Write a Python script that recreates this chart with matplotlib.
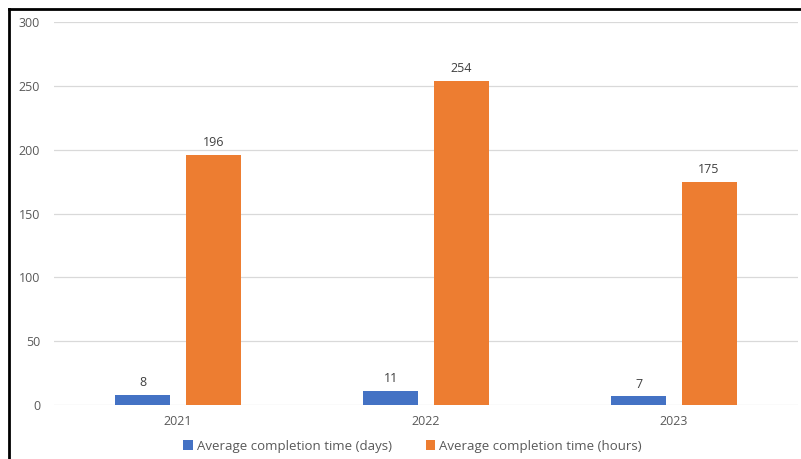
import numpy as np
import matplotlib.pyplot as plt
from matplotlib.lines import Line2D

years = ["2021", "2022", "2023"]
days = [8, 11, 7]
hours = [196, 254, 175]
labels = ["Average completion time (days)", "Average completion time (hours)"]

plt.rcParams['font.family'] = ['Open Sans', 'DejaVu Sans']

fig = plt.figure(figsize=(8.01, 4.59), dpi=100)
ax = fig.add_axes([0.0674, 0.1176, 0.9286, 0.8344])

x = np.arange(len(years))
w = 0.222
off = 0.142
b1 = ax.bar(x - off, days, w, color="#4472C4", label=labels[0])
b2 = ax.bar(x + off, hours, w, color="#ED7D31", label=labels[1])
for bars in (b1, b2):
    for r in bars:
        ax.annotate(str(int(r.get_height())), (r.get_x() + r.get_width() / 2, r.get_height()),
                    xytext=(0, 4), textcoords="offset points", ha="center", va="bottom",
                    fontsize=9, color="#404040")

ax.set_xlim(-0.5, 2.5)
ax.set_ylim(0, 300)
ax.set_yticks(range(0, 301, 50))
ax.set_xticks(x)
ax.set_xticklabels(years)
ax.grid(axis="y", color="#D9D9D9", linewidth=0.9)
ax.set_axisbelow(True)
for s in ax.spines.values():
    s.set_visible(False)
ax.tick_params(length=0, labelsize=9, colors="#595959")
ax.tick_params(axis="y", pad=10)
ax.tick_params(axis="x", pad=7)

fig.legend(handles=[b1, b2], labels=labels, loc="center", bbox_to_anchor=(0.515, 0.028),
           ncol=2, frameon=False, fontsize=9.5, labelcolor="#595959", handlelength=0.7,
           handleheight=0.7, handletextpad=0.3, columnspacing=2.6)

# outer frame
fig.add_artist(Line2D([8.5 / 801, 8.5 / 801], [0, 1 - 9 / 459], color="black", linewidth=2))
fig.add_artist(Line2D([8.5 / 801, 1], [1 - 9 / 459, 1 - 9 / 459], color="black", linewidth=2))

fig.savefig("out.png", dpi=100)
